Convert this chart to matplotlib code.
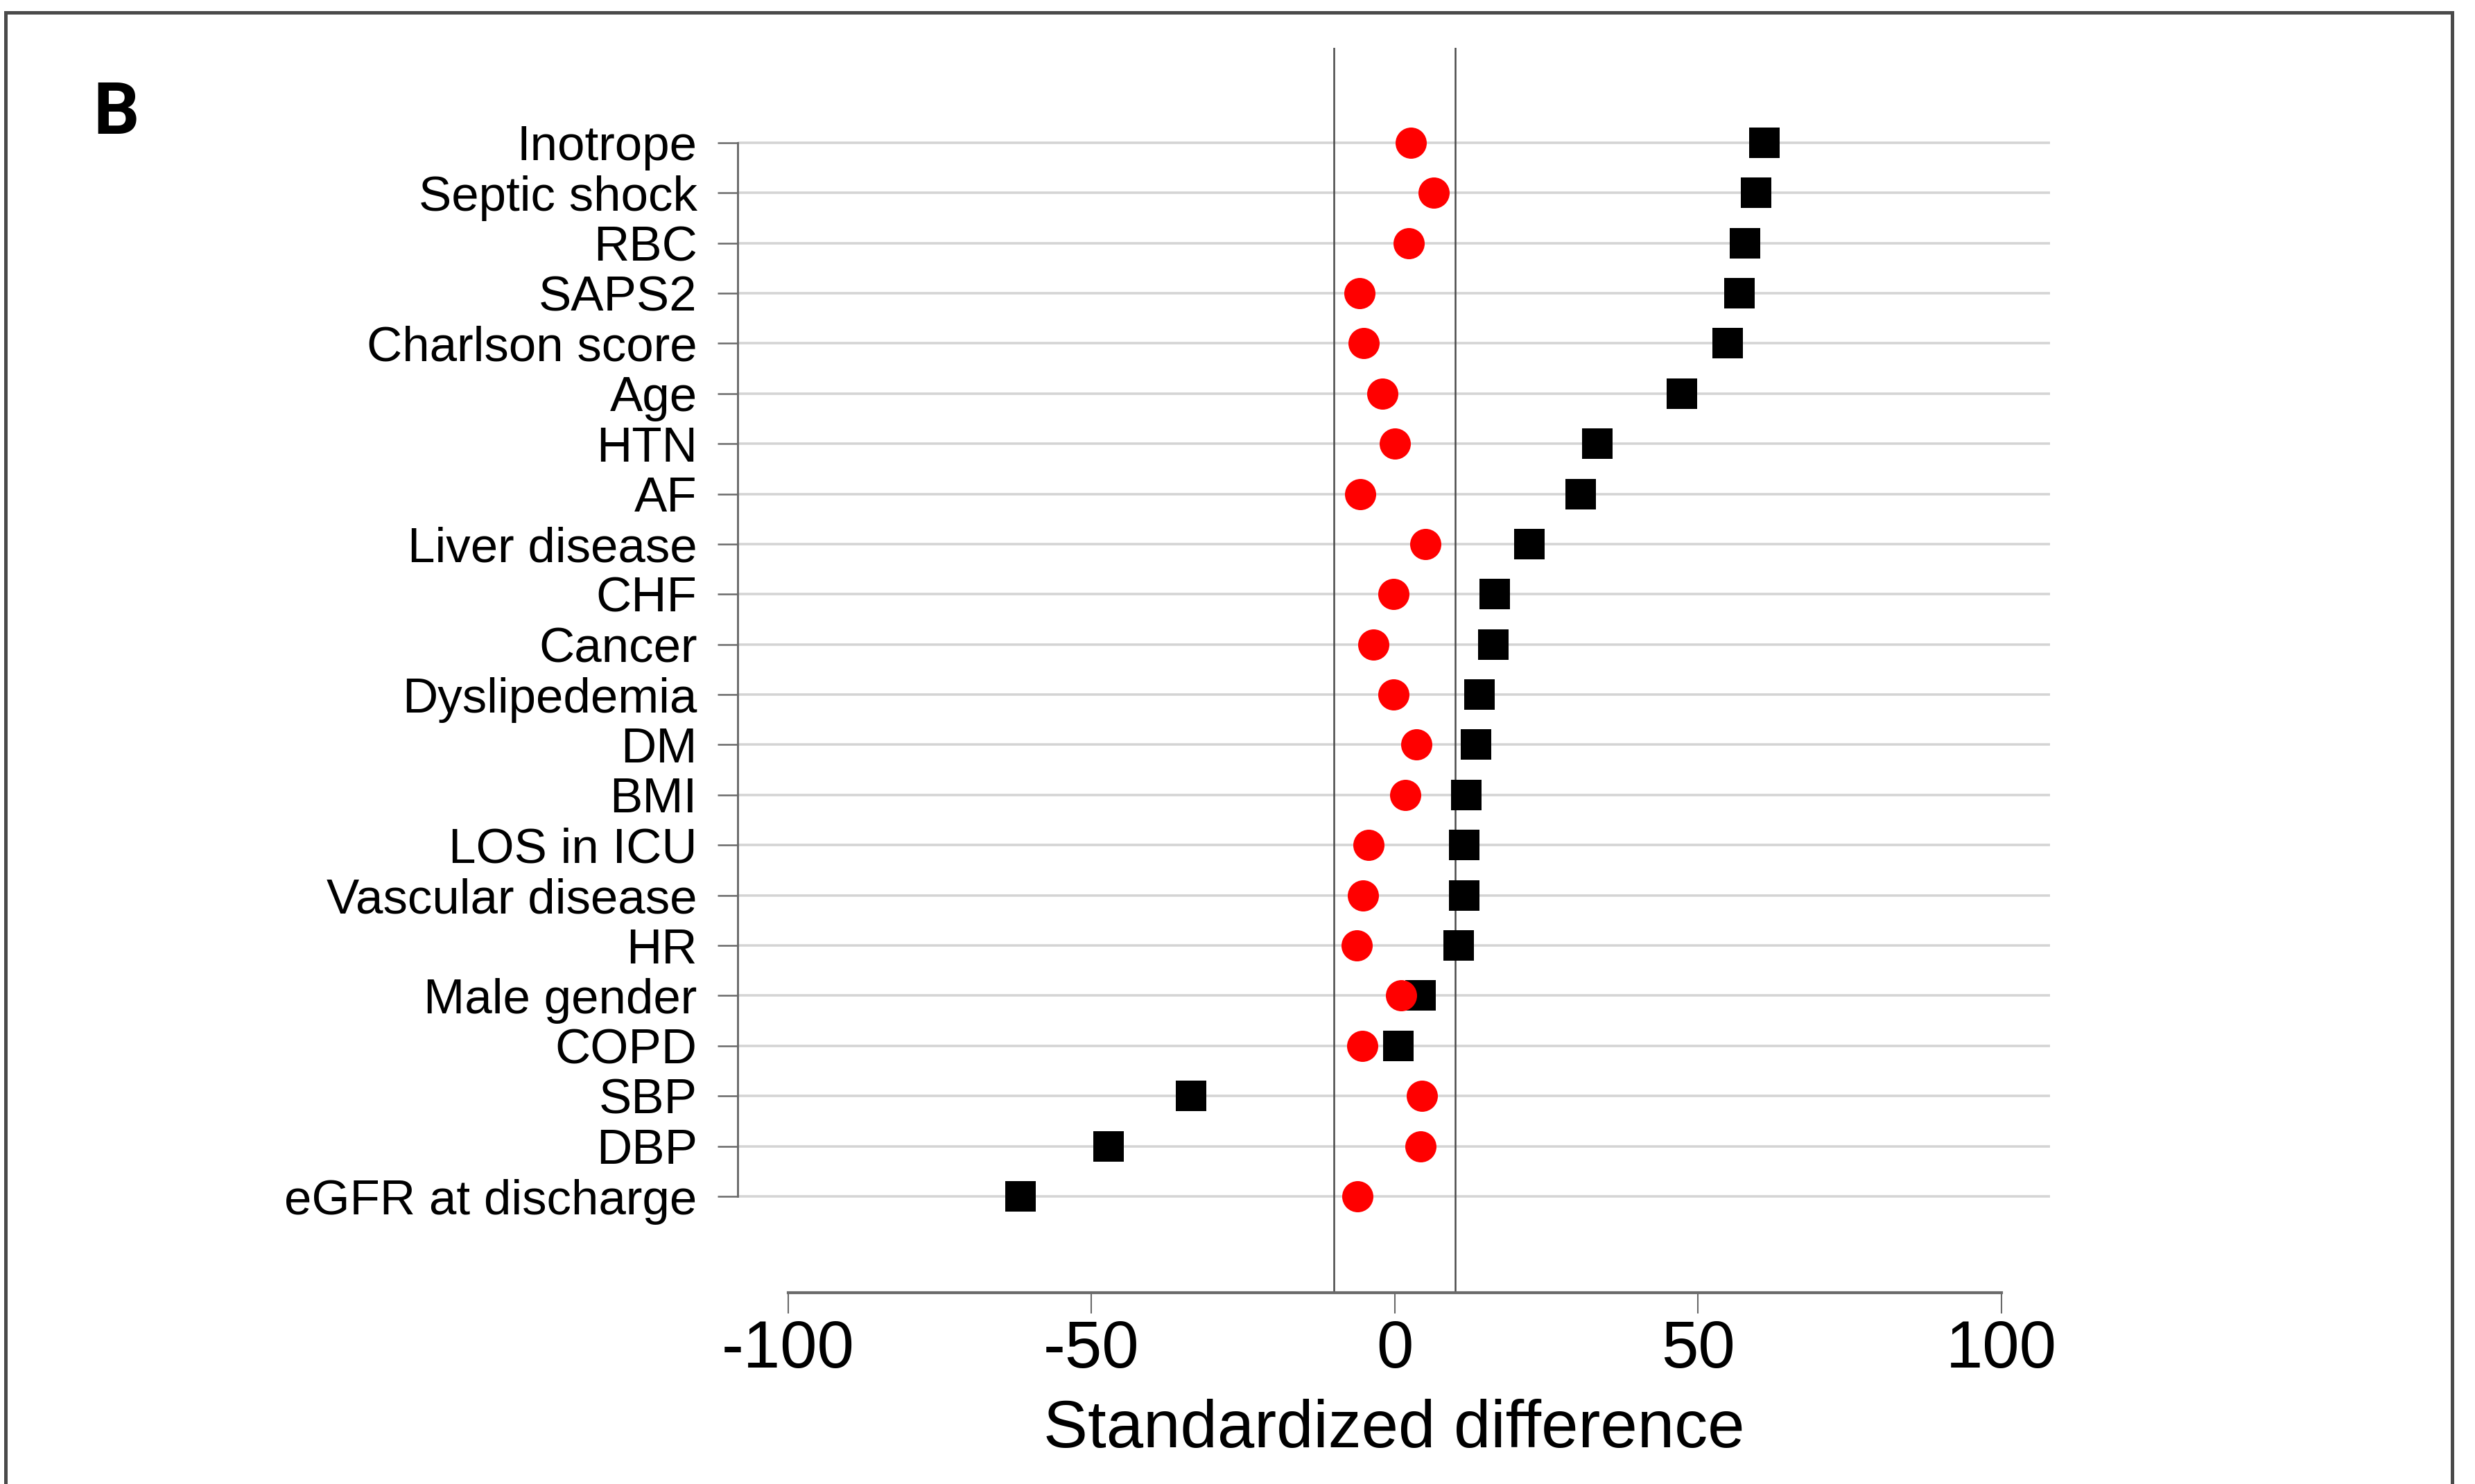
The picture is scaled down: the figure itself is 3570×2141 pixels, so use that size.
import matplotlib
matplotlib.use("Agg")
import matplotlib.pyplot as plt
from matplotlib.patches import Rectangle
from matplotlib.transforms import ScaledTranslation

plt.rcParams['font.family'] = ['Liberation Sans', 'DejaVu Sans']

categories = ["Inotrope", "Septic shock", "RBC", "SAPS2", "Charlson score", "Age",
              "HTN", "AF", "Liver disease", "CHF", "Cancer", "Dyslipedemia", "DM",
              "BMI", "LOS in ICU", "Vascular disease", "HR", "Male gender", "COPD",
              "SBP", "DBP", "eGFR at discharge"]
unmatched = [60.9, 59.6, 57.7, 56.8, 54.9, 47.3, 33.4, 30.7, 22.2, 16.5, 16.3,
             14.0, 13.4, 11.8, 11.5, 11.5, 10.5, 4.2, 0.6, -33.6, -47.2, -61.7]
matched = [2.6, 6.4, 2.3, -5.8, -5.1, -2.0, 0.0, -5.7, 5.0, -0.2, -3.5,
           -0.2, 3.6, 1.7, -4.3, -5.2, -6.3, 1.1, -5.4, 4.5, 4.2, -6.1]
xticks = [-100, -50, 0, 50, 100]
ref_lines = [-10, 10]

W, H = 3570, 2141
fig = plt.figure(figsize=(W / 300, H / 300), dpi=300)
fig.patch.set_facecolor('white')

# outer frame
fig.patches.append(Rectangle((8 / W, -0.05), (3537 - 8) / W, 1.05 - 18 / H,
                             transform=fig.transFigure, fill=False,
                             edgecolor='#4a4a4a', linewidth=1.2, zorder=0))

left, right = 1064 / W, 2957 / W
top, bottom = 1 - 69 / H, 1 - 1865 / H
ax = fig.add_axes([left, bottom, right - left, top - bottom])

ypos = list(range(len(categories)))
for y in ypos:
    ax.axhline(y, color='#d4d4d4', linewidth=0.85, zorder=1)
for xv in ref_lines:
    ax.axvline(xv, color='#4a4a4a', linewidth=0.6, zorder=2)

ax.plot(unmatched, ypos, linestyle='none', marker='s', markersize=10.6,
        color='black', markeredgewidth=0, zorder=3)
ax.plot(matched, ypos, linestyle='none', marker='o', markersize=10.8,
        color='#ff0000', markeredgewidth=0, zorder=4)

ax.set_xlim(-108.3, 108.0)
ax.set_ylim(22.92, -1.89)

ax.set_yticks(ypos)
ax.set_yticklabels(categories, fontsize=17)
ax.set_xticks(xticks)
ax.set_xticklabels([str(v) for v in xticks], fontsize=23)
ax.set_xlabel("Standardized difference", fontsize=23, labelpad=6)

shift = ScaledTranslation(0, -5 / 300, fig.dpi_scale_trans)
for lab in ax.get_yticklabels():
    lab.set_transform(lab.get_transform() + shift)

for s in ['top', 'right']:
    ax.spines[s].set_visible(False)
ax.spines['left'].set_bounds(0, 21)
ax.spines['left'].set_color('#6a6a6a')
ax.spines['left'].set_linewidth(0.7)
ax.spines['bottom'].set_bounds(-100, 100)
ax.spines['bottom'].set_color('#6a6a6a')
ax.spines['bottom'].set_linewidth(1.0)

ax.tick_params(axis='y', length=7, width=0.6, color='#6a6a6a', pad=7)
ax.tick_params(axis='x', length=7.2, width=0.5, color='#6a6a6a', pad=2)

fig.text(134 / W, 1 - 193 / H, "B", fontsize=25, fontweight='semibold',
         family=['Roboto', 'DejaVu Sans'], ha='left', va='baseline')

fig.savefig("out.png", dpi=300, facecolor='white')
